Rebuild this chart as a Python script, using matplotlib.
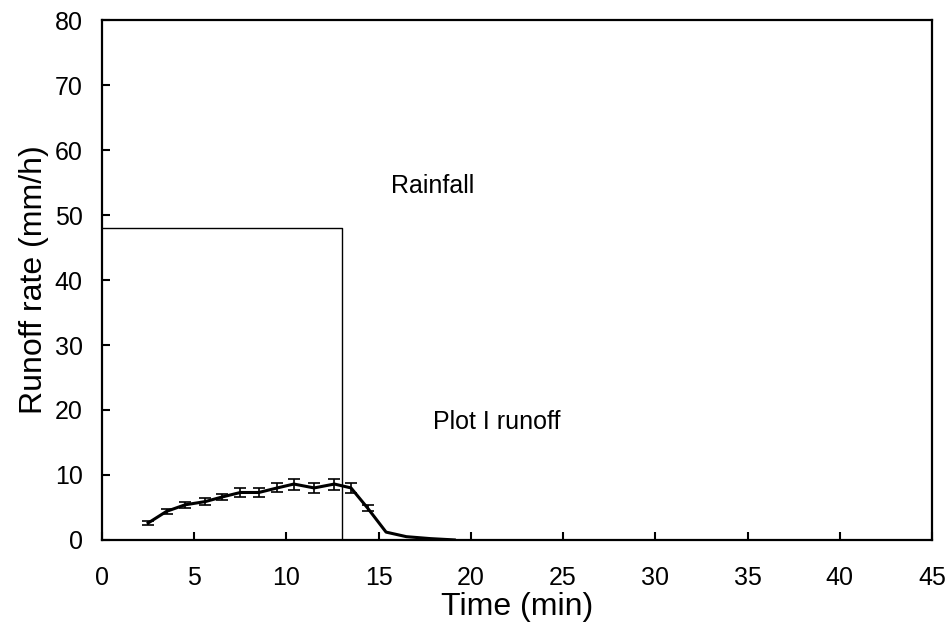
import matplotlib
matplotlib.use("Agg")
import matplotlib.pyplot as plt

plt.rcParams['font.family'] = ['Liberation Sans', 'DejaVu Sans']

# runoff hydrograph (min, mm/h)
time = [2.5, 3.5, 4.5, 5.6, 6.5, 7.5, 8.5, 9.5, 10.4, 11.5, 12.6, 13.5, 14.4, 15.4, 16.5, 17.8, 19.1]
runoff = [2.6, 4.4, 5.4, 5.9, 6.6, 7.3, 7.3, 8.0, 8.6, 8.0, 8.6, 8.0, 4.9, 1.2, 0.5, 0.2, 0.0]
err = [0.3, 0.4, 0.5, 0.5, 0.5, 0.7, 0.7, 0.7, 0.85, 0.75, 0.85, 0.75, 0.5, 0, 0, 0, 0]
n_err = 13

# rainfall block
rain_time = [0, 13, 13]
rain_rate = [48, 48, 0]

fig, ax = plt.subplots(figsize=(9.51, 6.3), dpi=100)
fig.subplots_adjust(left=0.1073, right=0.98, top=0.968, bottom=0.143)

ax.plot(rain_time, rain_rate, color='black', lw=1.0)
ax.plot(time, runoff, color='black', lw=2.2)
ax.errorbar(time[:n_err], runoff[:n_err], yerr=err[:n_err], fmt='none',
            ecolor='black', elinewidth=1.2, capsize=4, capthick=1.2)

ax.text(17.9, 54.5, 'Rainfall', ha='center', va='center', fontsize=18)
ax.text(21.4, 18.2, 'Plot I runoff', ha='center', va='center', fontsize=18)

ax.set_xlim(0, 45)
ax.set_ylim(0, 80)
ax.set_xticks(range(0, 46, 5))
ax.set_yticks(range(0, 81, 10))
ax.tick_params(direction='in', length=6, width=1.5, labelsize=18)
ax.tick_params(axis='x', pad=19)
ax.tick_params(axis='y', pad=14)
for s in ax.spines.values():
    s.set_linewidth(1.6)

ax.set_xlabel('Time (min)', fontsize=23, labelpad=1)
ax.set_ylabel('Runoff rate (mm/h)', fontsize=23, labelpad=4)

fig.savefig('out.png', dpi=100)
